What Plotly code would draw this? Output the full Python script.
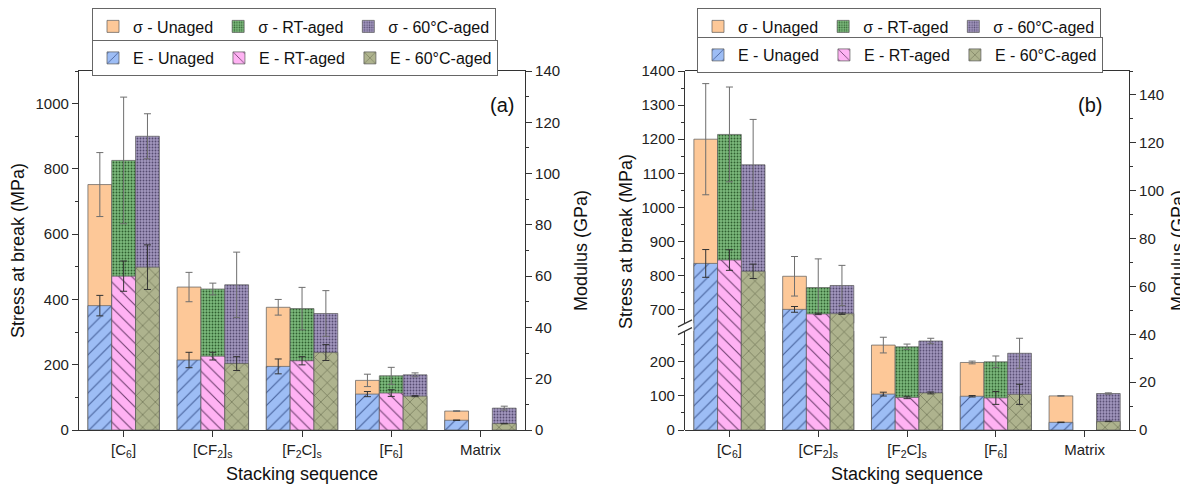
import plotly.graph_objects as go

categories = ["[C<sub>6</sub>]", "[CF<sub>2</sub>]<sub>s</sub>", "[F<sub>2</sub>C]<sub>s</sub>", "[F<sub>6</sub>]", "Matrix"]

# Panel (a) - stress at break (MPa)
sig_a_unaged = [752, 438, 376, 152, 58]
sig_a_unaged_err = [98, 45, 24, 19, 1]
sig_a_rt = [826, 432, 372, 166, None]
sig_a_rt_err = [194, 18, 65, 26, None]
sig_a_60 = [900, 445, 357, 169, 67]
sig_a_60_err = [69, 100, 70, 6, 6]
# Panel (a) - modulus (GPa)
E_a_unaged = [48.5, 27.3, 24.8, 14.0, 3.8]
E_a_unaged_err = [4.0, 3.0, 2.9, 1.0, 0.1]
E_a_rt = [60.0, 28.8, 27.0, 14.4, None]
E_a_rt_err = [5.9, 1.5, 1.6, 1.3, None]
E_a_60 = [63.5, 25.9, 30.2, 13.2, 2.5]
E_a_60_err = [8.7, 2.7, 3.1, 0.2, 0.1]

# Panel (b) - stress at break (MPa)
sig_b_unaged = [1200, 798, 249, 198, 100]
sig_b_unaged_err = [163, 58, 23, 4, 1]
sig_b_rt = [1214, 765, 244, 200, None]
sig_b_rt_err = [139, 84, 8, 17, None]
sig_b_60 = [1125, 771, 261, 225, 107]
sig_b_60_err = [133, 59, 8, 44, 2]
# Panel (b) - modulus (GPa)
E_b_unaged = [69.6, 50.4, 15.0, 14.1, 3.2]
E_b_unaged_err = [5.8, 1.2, 0.8, 0.3, 0.1]
E_b_rt = [71.0, 48.5, 13.6, 13.4, None]
E_b_rt_err = [4.3, 0.3, 0.5, 2.7, None]
E_b_60 = [66.3, 48.6, 15.5, 14.9, 3.6]
E_b_60_err = [3.0, 0.3, 0.4, 4.2, 0.1]

sig_names = ["σ - Unaged", "σ - RT-aged", "σ - 60°C-aged"]
E_names = ["E - Unaged", "E - RT-aged", "E - 60°C-aged"]

FONT = "Arial, Liberation Sans, sans-serif"
# the page body has an 8 px margin, so the figure is laid out in page pixels minus 8
OFF = 8
W, H = 1188 - OFF, 490 - OFF
PLOT_L, PLOT_R, PLOT_T, PLOT_B = 79, 1129, 71, 430  # page pixels
ML, MR, MT = PLOT_L - OFF, 1188 - PLOT_R, PLOT_T - OFF
MB = 490 - PLOT_B
PW = W - ML - MR
PH = H - MT - MB


def px_x(p):  # page x pixel -> paper fraction
    return (p - PLOT_L) / PW


def px_y(p):  # page y pixel -> paper fraction
    return (PLOT_B - p) / PH


sig_styles = [
    dict(color="#fdc898", pattern=None),
    dict(color="#6fae6f", pattern=dict(shape=".", bgcolor="#7cba7c", fgcolor="#2f5e2f", size=3, solidity=0.3)),
    dict(color="#9d91b8", pattern=dict(shape=".", bgcolor="#a296be", fgcolor="#554b70", size=3, solidity=0.3)),
]
E_styles = [
    dict(color="#9dbdf5", pattern=dict(shape="/", bgcolor="#9dbdf5", fgcolor="#46609a", size=9, solidity=0.12)),
    dict(color="#ffb2f3", pattern=dict(shape="\\", bgcolor="#ffb2f3", fgcolor="#704070", size=9, solidity=0.12)),
    dict(color="#aeb38e", pattern=dict(shape="x", bgcolor="#aeb38e", fgcolor="#5c6145", size=9, solidity=0.12)),
]
offsets = [-0.4, -0.133, 0.134]
BW = 0.267

fig = go.Figure()


def add_bar(y, err, name, style, k, xa, ya, legend, showlegend, errcolor):
    marker = dict(color=style["color"], line=dict(color="#5a5a5a", width=0.7))
    if style["pattern"] is not None:
        marker["pattern"] = dict(fillmode="replace", **style["pattern"])
    fig.add_trace(go.Bar(
        x=categories, y=y, name=name, marker=marker,
        offset=offsets[k], width=BW, xaxis=xa, yaxis=ya,
        legend=legend, showlegend=showlegend,
        error_y=dict(type="data", array=err, visible=True, color=errcolor, thickness=1, width=3.5),
    ))


# Panel a
sa = [(sig_a_unaged, sig_a_unaged_err), (sig_a_rt, sig_a_rt_err), (sig_a_60, sig_a_60_err)]
ea = [(E_a_unaged, E_a_unaged_err), (E_a_rt, E_a_rt_err), (E_a_60, E_a_60_err)]
for k, (v, e) in enumerate(sa):
    add_bar(v, e, sig_names[k], sig_styles[k], k, "x", "y", "legend", True, "#6e6e6e")
for k, (v, e) in enumerate(ea):
    add_bar(v, e, E_names[k], E_styles[k], k, "x", "y2", "legend2", True, "#333333")

# Panel b (broken left axis: y3 lower, y4 upper)
sb = [(sig_b_unaged, sig_b_unaged_err), (sig_b_rt, sig_b_rt_err), (sig_b_60, sig_b_60_err)]
eb = [(E_b_unaged, E_b_unaged_err), (E_b_rt, E_b_rt_err), (E_b_60, E_b_60_err)]
for k, (v, e) in enumerate(sb):
    add_bar(v, e, sig_names[k], sig_styles[k], k, "x2", "y3", "legend3", False, "#6e6e6e")
    add_bar(v, e, sig_names[k], sig_styles[k], k, "x2", "y4", "legend3", True, "#6e6e6e")
for k, (v, e) in enumerate(eb):
    add_bar(v, e, E_names[k], E_styles[k], k, "x2", "y5", "legend4", True, "#333333")

# broken-axis geometry
scale = 0.341  # px per MPa
low_rng = [0, 290]
up_rng = [660, 1400]
d1 = (low_rng[1] - low_rng[0]) * scale / PH
d2 = 1 - (up_rng[1] - up_rng[0]) * scale / PH

tickfont = dict(family=FONT, size=15, color="#222")
titlefont = dict(family=FONT, size=18, color="#111")
axcommon = dict(showline=True, linecolor="#333", linewidth=1.2, ticks="outside", ticklen=6,
                tickcolor="#333", showgrid=False, zeroline=False, tickfont=tickfont, automargin=False)
minor_y = lambda d: dict(dtick=d, ticks="outside", ticklen=3, tickcolor="#333", showgrid=False)

xa_dom = [0, px_x(525)]
xb_dom = [px_x(685), 1]

xcat = dict(type="category", categoryorder="array", categoryarray=categories, range=[-0.5, 4.5],
            title=dict(text="Stacking sequence", font=titlefont, standoff=8), **axcommon)
xminor = dict(type="linear", range=[-0.5, 4.5], tick0=0.5, dtick=1, ticks="outside", ticklen=4,
              tickcolor="#333", showticklabels=False, showline=False, showgrid=False, zeroline=False,
              automargin=False)

fig.update_layout(
    width=W, height=H,
    margin=dict(l=ML, r=MR, t=MT, b=MB, autoexpand=False),
    paper_bgcolor="white", plot_bgcolor="rgba(0,0,0,0)",
    barmode="overlay",
    font=dict(family=FONT, color="#222"),
    xaxis=dict(domain=xa_dom, anchor="y", mirror=True, **xcat),
    xaxis3=dict(overlaying="x", anchor="y", **xminor),
    yaxis=dict(range=[0, 1100], dtick=200, minor=minor_y(100), anchor="x",
               title=dict(text="Stress at break (MPa)", font=titlefont), **axcommon),
    yaxis2=dict(range=[0, 140], dtick=20, minor=minor_y(10), anchor="x", overlaying="y", side="right",
                title=dict(text="Modulus (GPa)", font=titlefont), **axcommon),
    xaxis2=dict(domain=xb_dom, anchor="y5", mirror=True, **xcat),
    xaxis4=dict(overlaying="x2", anchor="y5", **xminor),
    yaxis3=dict(domain=[0, d1], range=low_rng, dtick=100, minor=minor_y(50), anchor="x2", **axcommon),
    yaxis4=dict(domain=[d2, 1], range=up_rng, dtick=100, minor=minor_y(50), anchor="x2", **axcommon),
    yaxis5=dict(domain=[0, 1], range=[0, 150], dtick=20, minor=minor_y(10), anchor="x2", side="right",
                title=dict(text="Modulus (GPa)", font=titlefont), **axcommon),
)

legfont = dict(family=FONT, size=16, color="#111")
legcommon = dict(orientation="h", xref="container", yref="container", xanchor="left", yanchor="top",
                 bordercolor="#666", borderwidth=1, bgcolor="white", font=legfont, traceorder="normal")
fig.update_layout(
    legend=dict(x=(92 - OFF) / W, y=1 - (8 - OFF) / H - 0.001, **legcommon),
    legend2=dict(x=(92 - OFF) / W, y=1 - (40 - OFF) / H, **legcommon),
    legend3=dict(x=(697 - OFF) / W, y=1 - 0.001, **legcommon),
    legend4=dict(x=(697 - OFF) / W, y=1 - (37 - OFF) / H, **legcommon),
)

fig.add_annotation(text="(a)", xref="paper", yref="paper", x=px_x(502), y=px_y(92),
                   showarrow=False, font=dict(family=FONT, size=20, color="#111"))
fig.add_annotation(text="(b)", xref="paper", yref="paper", x=px_x(1104), y=px_y(92),
                   showarrow=False, font=dict(family=FONT, size=20, color="#111"))
fig.add_annotation(text="Stress at break (MPa)", xref="paper", yref="paper", x=px_x(626),
                   y=px_y(242), textangle=-90, showarrow=False, font=titlefont)

# break marks on the left axis of panel b
dx = 7 / ((xb_dom[1] - xb_dom[0]) * PW)
dy = 3.5 / PH
for yy in (d1, d2):
    fig.add_shape(type="line", xref="x2 domain", yref="paper", x0=-dx, x1=dx, y0=yy - dy, y1=yy + dy,
                  line=dict(color="#333", width=1.2))

fig.write_html("out.html")
